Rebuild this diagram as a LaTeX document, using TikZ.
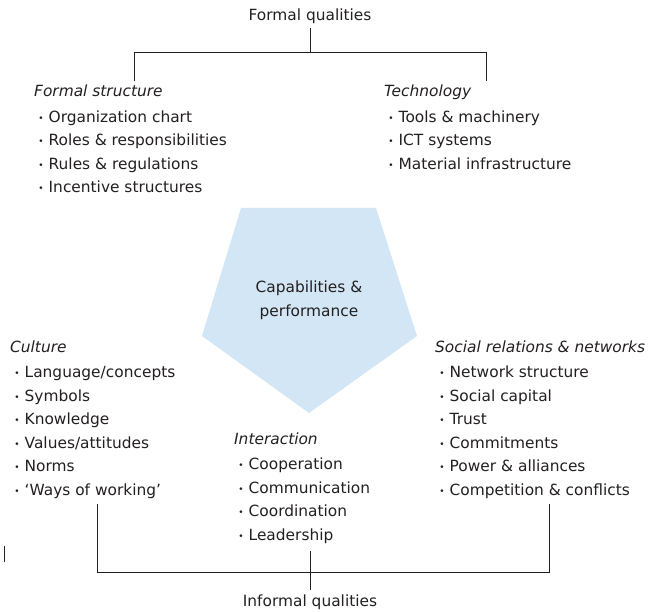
\documentclass[tikz,border=0pt]{standalone}
\usepackage{fontspec}
\setmainfont{DejaVu Sans}
\definecolor{txt}{RGB}{35,31,32}
\definecolor{penta}{RGB}{210,230,245}
\begin{document}
\begin{tikzpicture}[x=1pt,y=-1pt,
  every node/.style={text=txt, font=\fontsize{15.4}{18}\selectfont},
  title/.style={anchor=base, inner sep=0pt},
  head/.style={anchor=base west, inner sep=0pt, font=\fontsize{15.4}{18}\selectfont\itshape},
  listitem/.style={anchor=base west, inner sep=0pt, execute at begin node={\makebox[11.5pt][l]{\hspace{1.2pt}\raisebox{1.3pt}{\fontsize{9}{9}\selectfont •}}}},
  bracket/.style={draw=txt, line width=0.9pt},
]
\useasboundingbox (0,0) rectangle (649,612);

% central pentagon
\coordinate (p1) at (241,208);
\coordinate (p2) at (376,208);
\coordinate (p3) at (417,336);
\coordinate (p4) at (309,413);
\coordinate (p5) at (202,336);
\fill[penta] (p1) -- (p2) -- (p3) -- (p4) -- (p5) -- cycle;
\node[title] (cap1) at (309,293) {Capabilities \&};
\node[title] (cap2) at (309,317) {performance};

% top bracket
\node[title] (formal) at (310,21) {Formal qualities};
\coordinate (tc) at (310,28);
\coordinate (tm) at (310,52);
\coordinate (tl) at (134,52);
\coordinate (tr) at (486,52);
\coordinate (tlb) at (134,81);
\coordinate (trb) at (486,81);
\draw[bracket] (tc) -- (tm);
\draw[bracket] (tlb) -- (tl) -- (tr) -- (trb);

% Formal structure
\node[head] (fs) at (34,97) {Formal structure};
\node[listitem] (fs1) at (37,122.5) {Organization chart};
\node[listitem] (fs2) at (37,146) {Roles \& responsibilities};
\node[listitem] (fs3) at (37,169.5) {Rules \& regulations};
\node[listitem] (fs4) at (37,193) {Incentive structures};

% Technology
\node[head] (te) at (384,97) {Technology};
\node[listitem] (te1) at (387,122.5) {Tools \& machinery};
\node[listitem] (te2) at (387,146) {ICT systems};
\node[listitem] (te3) at (387,169.5) {Material infrastructure};

% Culture
\node[head] (cu) at (10,353) {Culture};
\node[listitem] (cu1) at (13,378) {Language/concepts};
\node[listitem] (cu2) at (13,401.5) {Symbols};
\node[listitem] (cu3) at (13,425) {Knowledge};
\node[listitem] (cu4) at (13,448.5) {Values/attitudes};
\node[listitem] (cu5) at (13,472) {Norms};
\node[listitem] (cu6) at (13,495.5) {‘Ways of working’};

% Social relations
\node[head] (so) at (435,353) {Social relations \& networks};
\node[listitem] (so1) at (438,378) {Network structure};
\node[listitem] (so2) at (438,401.5) {Social capital};
\node[listitem] (so3) at (438,425) {Trust};
\node[listitem] (so4) at (438,448.5) {Commitments};
\node[listitem] (so5) at (438,472) {Power \& alliances};
\node[listitem] (so6) at (438,495.5) {Competition \& conflicts};

% Interaction
\node[head] (in) at (234,445) {Interaction};
\node[listitem] (in1) at (237,470) {Cooperation};
\node[listitem] (in2) at (237,493.5) {Communication};
\node[listitem] (in3) at (237,517) {Coordination};
\node[listitem] (in4) at (237,540.5) {Leadership};

% bottom bracket
\node[title] (informal) at (310,607) {Informal qualities};
\coordinate (bl) at (97,504);
\coordinate (br) at (549,504);
\coordinate (bld) at (97,572);
\coordinate (brd) at (549,572);
\coordinate (bct) at (310,551);
\coordinate (bcb) at (310,590);
\draw[bracket] (bl) -- (bld) -- (brd) -- (br);
\draw[bracket] (bct) -- (bcb);

% stray mark
\coordinate (m1) at (4.5,546);
\coordinate (m2) at (4.5,562);
\draw[draw=txt, line width=1.1pt] (m1) -- (m2);
\end{tikzpicture}
\end{document}
